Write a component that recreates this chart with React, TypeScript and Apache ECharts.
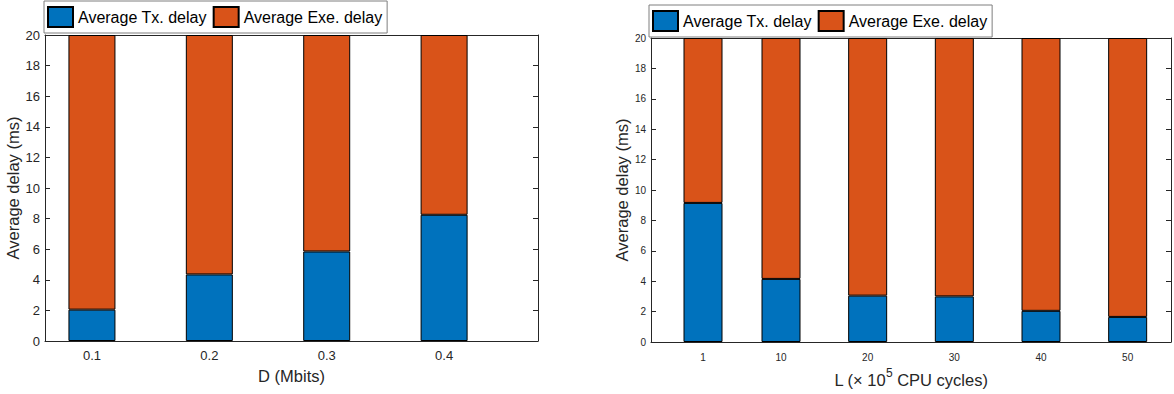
import React, { useEffect, useRef } from "react";
import * as echarts from "echarts";

const dValues = [0.1, 0.2, 0.3, 0.4];
const txLeft = [2.05, 4.35, 5.85, 8.25];
const exeLeft = [17.95, 15.65, 14.15, 11.75];

const lValues = [1, 10, 20, 30, 40, 50];
const txRight = [9.15, 4.15, 3.05, 3.0, 2.05, 1.65];
const exeRight = [10.85, 15.85, 16.95, 17.0, 17.95, 18.35];

const seriesNames = ["Average Tx. delay", "Average Exe. delay"];
const yTitle = "Average delay (ms)";

const FONT = "'Liberation Sans', Helvetica, Arial, sans-serif";
const INK = "#262626";
const BLUE = "#0072BD";
const ORANGE = "#D95319";
const TITLE_FS = 16.5;

export default function App() {
  const ref = useRef<HTMLDivElement>(null);
  useEffect(() => {
    if (!ref.current) return;
    const chart = echarts.init(ref.current, undefined, { renderer: "svg" });
    const line = { show: true, onZero: false, lineStyle: { color: INK, width: 1 } };
    const boxX = (grid: number, min: number, max: number, ticks: number[]) => ({
      gridIndex: grid, type: "value", min, max, position: "top",
      axisLine: line,
      axisTick: { show: true, inside: true, length: 5, customValues: ticks, lineStyle: { color: INK } },
      axisLabel: { show: false },
      splitLine: { show: false },
    });
    const yAx = (grid: number, pos: string, labels: boolean, fs: number) => ({
      gridIndex: grid, type: "value", min: 0, max: 20, interval: 2, position: pos,
      axisLine: line,
      axisTick: { show: true, inside: true, length: 5, lineStyle: { color: INK } },
      axisLabel: { show: labels, fontSize: fs, color: INK, fontFamily: FONT, margin: 5 },
      splitLine: { show: false },
      name: labels ? yTitle : "",
      nameLocation: "middle",
      nameGap: grid === 0 ? 22 : 21,
      nameTextStyle: { fontSize: TITLE_FS, color: INK, fontFamily: FONT },
    });
    const legendBase = {
      icon: "rect", itemWidth: 25, itemHeight: 20, itemGap: 6,
      padding: [5, 5, 5, 3], borderColor: "#7f7f7f", borderWidth: 1, backgroundColor: "#fff",
      textStyle: { fontSize: 16, color: "#000", fontFamily: FONT },
      data: seriesNames,
    };
    // value first, position second, so that the stack is on the value dimension
    const bar = (name: string, color: string, xi: number, yi: number, stack: string, xs: number[], ys: number[], w: number) => ({
      name, type: "bar", xAxisIndex: xi, yAxisIndex: yi, stack, barWidth: w,
      dimensions: ["val", "pos"],
      encode: { x: 1, y: 0 },
      data: xs.map((x, i) => [ys[i], x]),
      itemStyle: { color, borderColor: "#000", borderWidth: 1 },
    });
    chart.setOption({
      animation: false,
      textStyle: { fontFamily: FONT },
      legend: [
        { ...legendBase, left: 44, top: 1 },
        { ...legendBase, left: 649, top: 5 },
      ],
      grid: [
        { left: 45, top: 35, width: 493, height: 306 },
        { left: 651, top: 38, width: 520, height: 304 },
      ],
      xAxis: [
        {
          gridIndex: 0, type: "value", min: 0.06, max: 0.48, position: "bottom",
          axisLine: line,
          axisTick: { show: true, inside: true, length: 5, customValues: dValues, lineStyle: { color: INK } },
          axisLabel: { customValues: dValues, formatter: (v: number) => v.toFixed(1), fontSize: 13, color: INK, fontFamily: FONT, margin: 8 },
          splitLine: { show: false },
          name: "D (Mbits)", nameLocation: "middle", nameGap: 26,
          nameTextStyle: { fontSize: TITLE_FS, color: INK, fontFamily: FONT },
        },
        boxX(0, 0.06, 0.48, dValues),
        {
          gridIndex: 1, type: "value", min: -5, max: 55, position: "bottom",
          axisLine: line,
          axisTick: { show: true, inside: true, length: 5, customValues: lValues, lineStyle: { color: INK } },
          axisLabel: { customValues: lValues, fontSize: 10, color: INK, fontFamily: FONT, margin: 10 },
          splitLine: { show: false },
          name: "{a|L (× 10}{s|5}{a| CPU cycles)}", nameLocation: "middle", nameGap: 24,
          nameTextStyle: {
            color: INK, fontFamily: FONT,
            rich: {
              a: { fontSize: TITLE_FS, color: INK, fontFamily: FONT, verticalAlign: "bottom", lineHeight: 22 },
              s: { fontSize: 12, color: INK, fontFamily: FONT, verticalAlign: "top", lineHeight: 22 },
            },
          },
        },
        boxX(1, -5, 55, lValues),
      ],
      yAxis: [
        yAx(0, "left", true, 13),
        yAx(0, "right", false, 13),
        yAx(1, "left", true, 10),
        yAx(1, "right", false, 10),
      ],
      series: [
        bar(seriesNames[0], BLUE, 0, 0, "a", dValues, txLeft, 47),
        bar(seriesNames[1], ORANGE, 0, 0, "a", dValues, exeLeft, 47),
        bar(seriesNames[0], BLUE, 2, 2, "b", lValues, txRight, 39),
        bar(seriesNames[1], ORANGE, 2, 2, "b", lValues, exeRight, 39),
      ],
    } as any);
    return () => chart.dispose();
  }, []);
  return (
    <div
      ref={ref}
      style={{ position: "fixed", left: 0, top: 0, width: 1174, height: 394, background: "#fff" }}
    />
  );
}
